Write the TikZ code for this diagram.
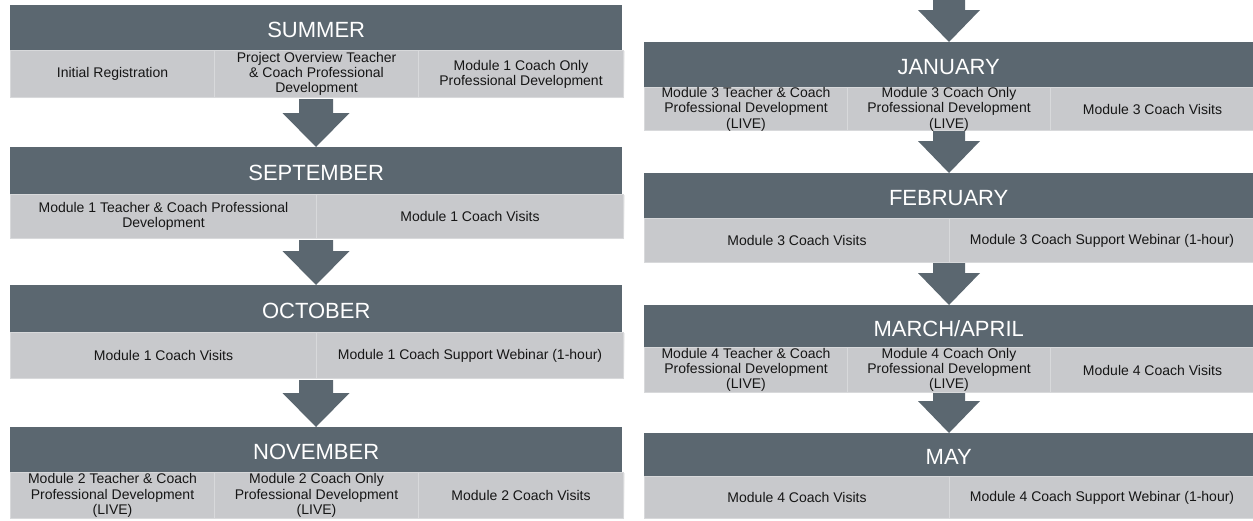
\documentclass[tikz,border=0pt]{standalone}
\usepackage{fontspec}
\setmainfont{Liberation Sans}
\usetikzlibrary{calc}

\definecolor{slate}{RGB}{91,103,112}
\definecolor{cellgray}{RGB}{200,201,204}
\definecolor{celltext}{RGB}{22,22,22}
\definecolor{seam}{RGB}{216,217,219}
\definecolor{shade}{RGB}{178,180,184}

\tikzset{
  hdr/.style={fill=slate, draw=none, anchor=north west, inner sep=0pt},
  hdrtext/.style={text=white, font=\fontsize{22}{24}\selectfont, inner sep=0pt},
  cell/.style={fill=cellgray, draw=seam, line width=1pt, anchor=north west,
    inner sep=0pt, align=center, text=celltext,
    font=\fontsize{14}{15.2}\selectfont},
  flow/.style={fill=slate, draw=none},
}

% block arrow: #1 top of shaft, #2 tip, #3 half shaft, #4 half head, #5 head length
\newcommand{\blockarrow}[5]{%
  \fill[flow] ($(#1)+(-#3,0)$) -- ($(#2)+(-#3,-#5)$) -- ($(#2)+(-#4,-#5)$) --
    (#2) -- ($(#2)+(#4,-#5)$) -- ($(#2)+(#3,-#5)$) -- ($(#1)+(#3,0)$) -- cycle;}

\begin{document}
\begin{tikzpicture}[x=1pt,y=-1pt]
\useasboundingbox (0,0) rectangle (1253,520);

% ---------------- connecting arrows (behind the boxes) ----------------
\coordinate (topin) at (949,0);
\coordinate (a1s) at (316,96);   \coordinate (a1t) at (316,147);
\coordinate (a2s) at (316,237);  \coordinate (a2t) at (316,285);
\coordinate (a3s) at (316,377);  \coordinate (a3t) at (316,427);
\coordinate (b0t) at (949,42);
\coordinate (b1s) at (949,129);  \coordinate (b1t) at (949,173);
\coordinate (b2s) at (949,261);  \coordinate (b2t) at (949,305);
\coordinate (b3s) at (949,391);  \coordinate (b3t) at (949,433);

\blockarrow{a1s}{a1t}{17}{33.5}{34}
\blockarrow{a2s}{a2t}{17}{33.5}{34}
\blockarrow{a3s}{a3t}{17}{33.5}{34}
\blockarrow{topin}{b0t}{16}{31}{32}
\blockarrow{b1s}{b1t}{16}{31}{32}
\blockarrow{b2s}{b2t}{16}{31}{32}
\blockarrow{b3s}{b3t}{16}{31}{32}

% ---------------- left column ----------------
% SUMMER
\fill[shade] (11.5,51.5) rectangle (624,98.5);
\node[hdr, minimum width=612pt, minimum height=45pt] (sum) at (10,5) {};
\node[hdrtext] (sumt) at ($(sum.center)+(0,2)$) {SUMMER};
\node[cell, minimum width=204pt, minimum height=47pt] (sum1) at (10,50) {Initial Registration};
\node[cell, minimum width=204pt, minimum height=47pt] (sum2) at (214,50) {Project Overview Teacher\\ \& Coach Professional\\ Development};
\node[cell, minimum width=205pt, minimum height=47pt] (sum3) at (418,50) {Module 1 Coach Only\\ Professional Development};

% SEPTEMBER
\fill[shade] (11.5,195.5) rectangle (624,239.5);
\node[hdr, minimum width=612pt, minimum height=47pt] (sep) at (10,147) {};
\node[hdrtext] (sept) at ($(sep.center)+(0,2)$) {SEPTEMBER};
\node[cell, minimum width=306pt, minimum height=44pt] (sep1) at (10,194) {Module 1 Teacher \& Coach Professional\\ Development};
\node[cell, minimum width=307pt, minimum height=44pt] (sep2) at (316,194) {Module 1 Coach Visits};

% OCTOBER
\fill[shade] (11.5,333.5) rectangle (624,379.5);
\node[hdr, minimum width=612pt, minimum height=47pt] (oct) at (10,285) {};
\node[hdrtext] (octt) at ($(oct.center)+(0,2)$) {OCTOBER};
\node[cell, minimum width=306pt, minimum height=46pt] (oct1) at (10,332) {Module 1 Coach Visits};
\node[cell, minimum width=307pt, minimum height=46pt] (oct2) at (316,332) {Module 1 Coach Support Webinar (1-hour)};

% NOVEMBER
\fill[shade] (11.5,473.5) rectangle (624,519.5);
\node[hdr, minimum width=612pt, minimum height=45pt] (nov) at (10,427) {};
\node[hdrtext] (novt) at ($(nov.center)+(0,2)$) {NOVEMBER};
\node[cell, minimum width=204pt, minimum height=46pt] (nov1) at (10,472) {Module 2 Teacher \& Coach\\ Professional Development\\ (LIVE)};
\node[cell, minimum width=204pt, minimum height=46pt] (nov2) at (214,472) {Module 2 Coach Only\\ Professional Development\\ (LIVE)};
\node[cell, minimum width=205pt, minimum height=46pt] (nov3) at (418,472) {Module 2 Coach Visits};

% ---------------- right column ----------------
% JANUARY
\node[hdr, minimum width=609pt, minimum height=45pt] (jan) at (644,42) {};
\node[hdrtext] (jant) at ($(jan.center)+(0,2)$) {JANUARY};
\node[cell, minimum width=203pt, minimum height=43pt] (jan1) at (644,87) {Module 3 Teacher \& Coach\\ Professional Development\\ (LIVE)};
\node[cell, minimum width=203pt, minimum height=43pt] (jan2) at (847,87) {Module 3 Coach Only\\ Professional Development\\ (LIVE)};
\node[cell, minimum width=204pt, minimum height=43pt] (jan3) at (1050,87) {Module 3 Coach Visits};

% FEBRUARY
\node[hdr, minimum width=609pt, minimum height=45pt] (feb) at (644,173) {};
\node[hdrtext] (febt) at ($(feb.center)+(0,2)$) {FEBRUARY};
\node[cell, minimum width=305pt, minimum height=44pt] (feb1) at (644,218) {Module 3 Coach Visits};
\node[cell, minimum width=305pt, minimum height=44pt] (feb2) at (949,218) {Module 3 Coach Support Webinar (1-hour)};

% MARCH/APRIL
\node[hdr, minimum width=609pt, minimum height=42pt] (mar) at (644,305) {};
\node[hdrtext] (mart) at ($(mar.center)+(0,2)$) {MARCH/APRIL};
\node[cell, minimum width=203pt, minimum height=45pt] (mar1) at (644,347) {Module 4 Teacher \& Coach\\ Professional Development\\ (LIVE)};
\node[cell, minimum width=203pt, minimum height=45pt] (mar2) at (847,347) {Module 4 Coach Only\\ Professional Development\\ (LIVE)};
\node[cell, minimum width=204pt, minimum height=45pt] (mar3) at (1050,347) {Module 4 Coach Visits};

% MAY
\node[hdr, minimum width=609pt, minimum height=43pt] (may) at (644,433) {};
\node[hdrtext] (mayt) at ($(may.center)+(0,2)$) {MAY};
\node[cell, minimum width=305pt, minimum height=42pt] (may1) at (644,476) {Module 4 Coach Visits};
\node[cell, minimum width=305pt, minimum height=42pt] (may2) at (949,476) {Module 4 Coach Support Webinar (1-hour)};

\end{tikzpicture}
\end{document}
